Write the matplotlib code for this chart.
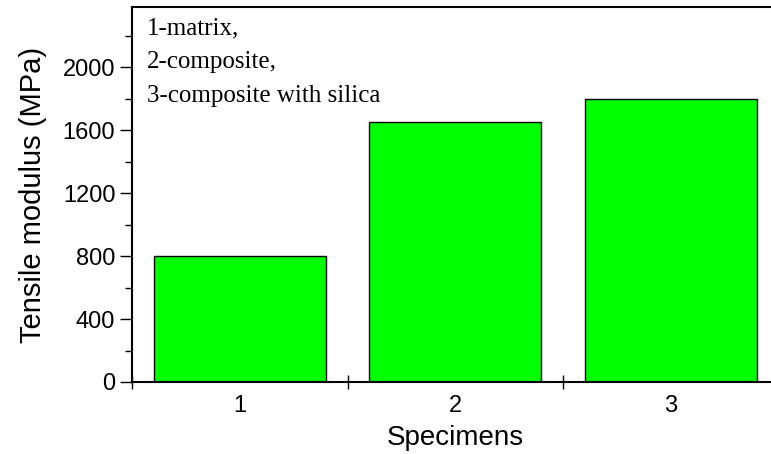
import matplotlib
matplotlib.use("Agg")
import matplotlib.pyplot as plt
from matplotlib.ticker import MultipleLocator, FixedLocator

specimens = [1, 2, 3]
modulus = [800, 1650, 1800]
tick_labels = ["1", "2", "3"]
notes = ["1-matrix,", "2-composite,", "3-composite with silica"]

fig = plt.figure(figsize=(7.71, 4.54), dpi=100)
# axes left edge at x=132, bottom at y=382, top at y=7; right runs past the image edge
ax = fig.add_axes([132 / 771, 1 - 382 / 454, 646.5 / 771, 375 / 454])

ax.bar(specimens, modulus, width=0.8, color="#00ff00", edgecolor="black", linewidth=1)

ax.set_xlim(0.5, 3.5)
ax.set_ylim(0, 2381)

ax.spines["right"].set_visible(False)
for s in ["left", "bottom", "top"]:
    ax.spines[s].set_linewidth(1.5)

ax.set_xticks(specimens)
ax.set_xticklabels(tick_labels)
ax.xaxis.set_minor_locator(FixedLocator([0.5, 1.5, 2.5, 3.5]))
ax.tick_params(axis="x", which="major", length=0, pad=9, labelsize=17)
ax.tick_params(axis="x", which="minor", direction="inout", length=10, width=1)

ax.yaxis.set_major_locator(MultipleLocator(400))
ax.yaxis.set_minor_locator(MultipleLocator(200))
ax.tick_params(axis="y", which="major", direction="out", length=9, width=1, labelsize=17, pad=3)
ax.tick_params(axis="y", which="minor", direction="out", length=5, width=1)

for lab in ax.get_xticklabels() + ax.get_yticklabels():
    lab.set_fontfamily("Liberation Sans")

ax.set_xlabel("Specimens", fontsize=20, family="Liberation Sans", labelpad=6)
ax.set_ylabel("Tensile modulus (MPa)", fontsize=21, family="Liberation Sans", labelpad=11)

ax.text(15 / 646.5, 1 - 10 / 375, "\n".join(notes), transform=ax.transAxes, va="top", ha="left",
        fontsize=18, family="Liberation Serif", linespacing=1.7)

fig.savefig("out.png", dpi=100)
plt.close(fig)
